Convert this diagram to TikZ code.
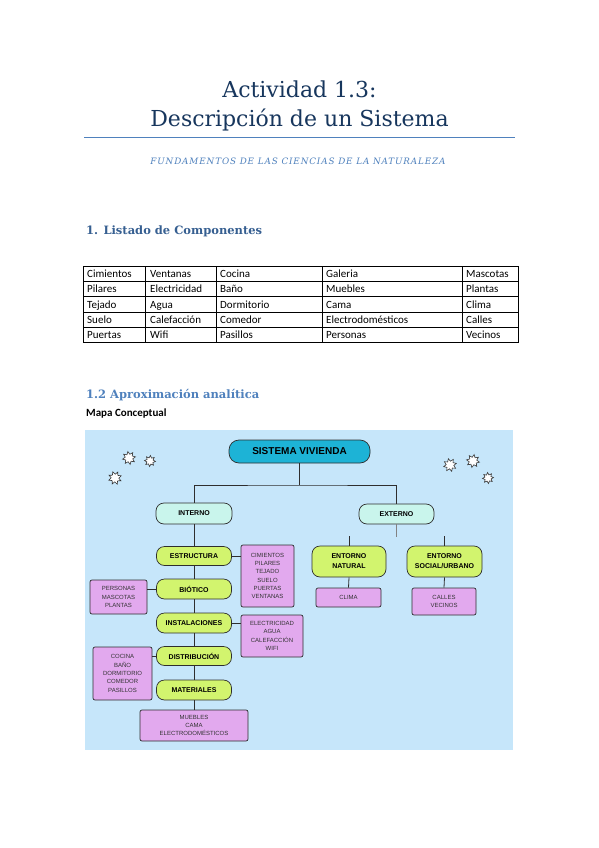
\documentclass[tikz,border=0pt]{standalone}
\usepackage{fontspec}
\setmainfont{Carlito}
\newfontfamily\headfont{DejaVu Serif}
\newfontfamily\subfont[LetterSpace=10]{DejaVu Serif}
\newfontfamily\mapfont{Liberation Sans}
\usetikzlibrary{shapes.geometric}
\definecolor{titleblue}{HTML}{17365D}
\definecolor{accentblue}{HTML}{4F81BD}
\definecolor{headblue}{HTML}{365F91}
\definecolor{mapsky}{HTML}{C6E6FA}
\definecolor{rootcyan}{HTML}{1DB3D6}
\definecolor{branchmint}{HTML}{C9F5EC}
\definecolor{leafgreen}{HTML}{D2F46E}
\definecolor{itemviolet}{HTML}{E2A9EE}
\definecolor{edgegray}{HTML}{2E2E2E}
\tikzset{
  mapedge/.style={edgegray, line width=0.8pt},
  tablerule/.style={black, line width=0.6pt},
  capsule/.style={draw=edgegray, line width=0.7pt, rounded corners=8pt,
    inner sep=0pt, align=center, text=black},
  rootbox/.style={capsule, fill=rootcyan, rounded corners=10pt,
    font=\mapfont\fontsize{10}{12}\selectfont\bfseries},
  branchbox/.style={capsule, fill=branchmint,
    font=\mapfont\fontsize{7}{10}\selectfont\bfseries},
  leafbox/.style={capsule, fill=leafgreen,
    font=\mapfont\fontsize{7}{10}\selectfont\bfseries},
  itembox/.style={draw=edgegray, line width=0.7pt, rounded corners=2pt,
    fill=itemviolet, inner sep=0pt, align=center, text=black!80,
    font=\mapfont\fontsize{6}{8.3}\selectfont},
  sparkle/.style={star, star points=8, star point ratio=1.7, fill=white,
    draw=black!80, line width=0.6pt, minimum size=13pt, inner sep=0pt},
  celltext/.style={anchor=base west, inner sep=0pt, font=\fontsize{11}{13}\selectfont}
}
\begin{document}
\begin{tikzpicture}[x=1pt, y=-1pt]
  \useasboundingbox (0,0) rectangle (599,848);
  \fill[white] (0,0) rectangle (599,848);

  % Title
  \node[anchor=base, inner sep=0pt, text=titleblue, font=\headfont\fontsize{22}{26}\selectfont]
    (title1) at (299.5,98) {Actividad 1.3:};
  \node[anchor=base, inner sep=0pt, text=titleblue, font=\headfont\fontsize{22}{26}\selectfont]
    (title2) at (299.5,126) {Descripción de un Sistema};
  \draw[accentblue, line width=0.8pt] (84,137) -- (515,137);
  \node[anchor=base, inner sep=0pt, text=accentblue, font=\subfont\itshape\fontsize{8.8}{10}\selectfont]
    (subtitle) at (298,164) {FUNDAMENTOS DE LAS CIENCIAS DE LA NATURALEZA};

  % Section 1
  \node[anchor=base west, inner sep=0pt, text=headblue, font=\headfont\bfseries\fontsize{11.5}{14}\selectfont]
    (sec1) at (86,234) {1. Listado de Componentes};

  % Table
  \foreach \yy in {266,281.33,296.67,312,327.33,342.67}
    \draw[tablerule] (83,\yy) -- (518,\yy);
  \foreach \xx in {83,145,216,322,462,518}
    \draw[tablerule] (\xx,266) -- (\xx,342.67);
  \foreach \i/\a/\b/\c/\d/\e in {1/Cimientos/Ventanas/Cocina/Galeria/Mascotas,
      2/Pilares/Electricidad/Baño/Muebles/Plantas,
      3/Tejado/Agua/Dormitorio/Cama/Clima,
      4/Suelo/Calefacción/Comedor/Electrodomésticos/Calles,
      5/Puertas/Wifi/Pasillos/Personas/Vecinos}{
    \pgfmathsetmacro{\yrow}{266+(\i-0.5)*15.33+3.8}
    \node[celltext] (cell-\i-1) at (87,\yrow) {\a};
    \node[celltext] (cell-\i-2) at (150,\yrow) {\b};
    \node[celltext] (cell-\i-3) at (220,\yrow) {\c};
    \node[celltext] (cell-\i-4) at (326,\yrow) {\d};
    \node[celltext] (cell-\i-5) at (466,\yrow) {\e};
  }

  % Section 1.2
  \node[anchor=base west, inner sep=0pt, text=accentblue, font=\headfont\bfseries\fontsize{11.5}{14}\selectfont]
    (sec2) at (86,398) {1.2 Aproximación analítica};
  \node[anchor=base west, inner sep=0pt, font=\bfseries\fontsize{11}{13}\selectfont]
    (maplabel) at (86,416) {Mapa Conceptual};

  % Concept map
  \fill[mapsky] (85,430) rectangle (513,750);

  \node[sparkle, rotate=10] (star1) at (129,458) {};
  \node[sparkle, rotate=-5, minimum size=11pt] (star2) at (150,461) {};
  \node[sparkle, rotate=20] (star3) at (115,478) {};
  \node[sparkle, rotate=15] (star4) at (450,465) {};
  \node[sparkle, rotate=-10] (star5) at (473,461) {};
  \node[sparkle, rotate=5, minimum size=11pt] (star6) at (488,478) {};

  \node[rootbox, minimum width=141pt, minimum height=23pt] (sv) at (299.5,451.5) {SISTEMA VIVIENDA};
  \node[branchbox, minimum width=76pt, minimum height=21pt] (int) at (194,513.5) {INTERNO};
  \node[branchbox, minimum width=75pt, minimum height=20pt] (ext) at (396.5,514) {EXTERNO};

  \node[leafbox, minimum width=75pt, minimum height=19pt] (estr) at (194,556) {ESTRUCTURA};
  \node[leafbox, minimum width=75pt, minimum height=20pt] (biot) at (194,589) {BIÓTICO};
  \node[leafbox, minimum width=75pt, minimum height=20pt] (inst) at (194,623) {INSTALACIONES};
  \node[leafbox, minimum width=75pt, minimum height=19pt] (dist) at (194,656) {DISTRIBUCIÓN};
  \node[leafbox, minimum width=75pt, minimum height=20pt] (mat) at (194,690) {MATERIALES};
  \node[leafbox, minimum width=74pt, minimum height=31pt] (entnat) at (349,561.5) {ENTORNO\\NATURAL};
  \node[leafbox, minimum width=75pt, minimum height=31pt] (entsoc) at (444.5,561.5) {ENTORNO\\SOCIAL/URBANO};

  \node[itembox, minimum width=53pt, minimum height=62pt] (cim) at (267.5,576)
    {CIMIENTOS\\PILARES\\TEJADO\\SUELO\\PUERTAS\\VENTANAS};
  \node[itembox, minimum width=57pt, minimum height=34pt] (pers) at (118.5,597)
    {PERSONAS\\MASCOTAS\\PLANTAS};
  \node[itembox, minimum width=62pt, minimum height=42pt] (elec) at (272,636)
    {ELECTRICIDAD\\AGUA\\CALEFACCIÓN\\WIFI};
  \node[itembox, minimum width=59pt, minimum height=53pt] (coc) at (122.5,673.5)
    {COCINA\\BAÑO\\DORMITORIO\\COMEDOR\\PASILLOS};
  \node[itembox, minimum width=108pt, minimum height=31pt] (mueb) at (194,725.5)
    {MUEBLES\\CAMA\\ELECTRODOMÉSTICOS};
  \node[itembox, minimum width=65pt, minimum height=19pt] (clima) at (348.5,597.5) {CLIMA};
  \node[itembox, minimum width=64pt, minimum height=27pt] (calles) at (444,601.5) {CALLES\\VECINOS};

  % connectors
  \coordinate (bus) at (299.5,485);
  \coordinate (extbus) at (396.5,537);
  \coordinate (natbus) at (349,536);
  \coordinate (socbus) at (444.5,536);
  \draw[mapedge] (sv.south) -- (bus);
  \draw[mapedge] (int.north) |- (bus) -| (ext.north);
  \foreach \a/\b in {int/estr, estr/biot, biot/inst, inst/dist, dist/mat, mat/mueb}
    \draw[mapedge] (\a.south) -- (\b.north);
  \draw[mapedge] (estr.east) -- (estr.east -| cim.west);
  \draw[mapedge] (biot.west) -- (biot.west -| pers.east);
  \draw[mapedge] (inst.east) -- (inst.east -| elec.west);
  \draw[mapedge] (dist.west) -- (dist.west -| coc.east);
  \draw[mapedge, edgegray!60] (ext.south) -- (extbus);
  \draw[mapedge] (entnat.north) -- (natbus);
  \draw[mapedge] (entsoc.north) -- (socbus);
  \draw[mapedge] (entnat.south) -- (clima.north);
  \draw[mapedge] (entsoc.south) -- (calles.north);
\end{tikzpicture}
\end{document}
